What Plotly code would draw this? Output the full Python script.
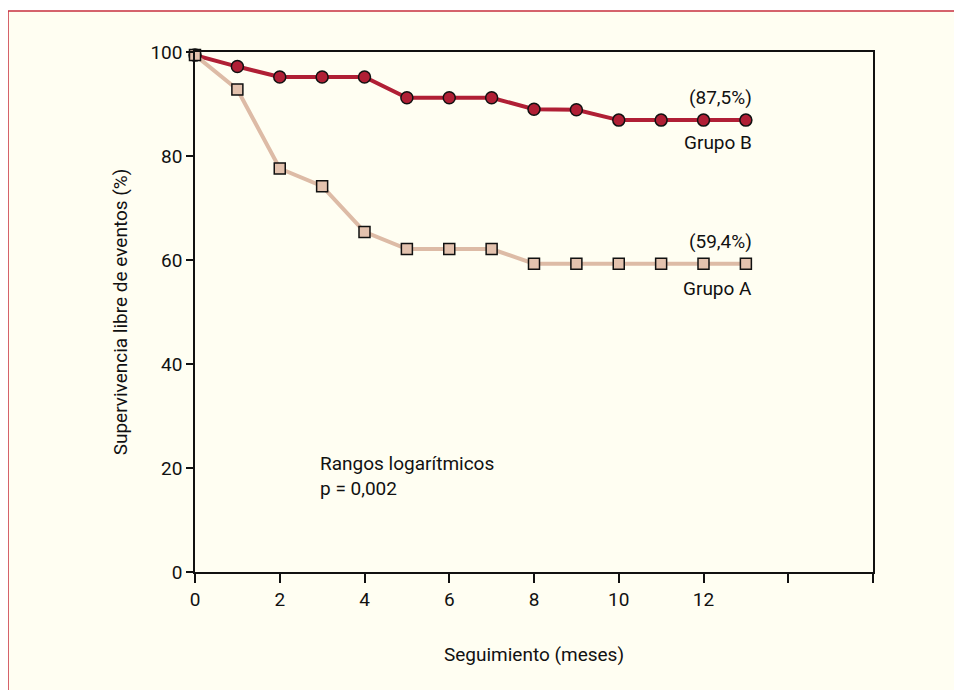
import plotly.graph_objects as go

months = list(range(0, 14))
grupo_b = [99.4, 97.2, 95.2, 95.2, 95.2, 91.2, 91.2, 91.2, 89.0, 88.9, 86.9, 86.9, 86.9, 86.9]
grupo_a = [99.4, 92.8, 77.6, 74.2, 65.4, 62.1, 62.1, 62.1, 59.3, 59.3, 59.3, 59.3, 59.3, 59.3]
x_ticks = [0, 2, 4, 6, 8, 10, 12, 14, 16]
x_tick_labels = ["0", "2", "4", "6", "8", "10", "12", "", ""]
y_ticks = [0, 20, 40, 60, 80, 100]

FONT = "Roboto, Liberation Sans Narrow, sans-serif"
RED = "#B01F35"
TAN = "#DDBBA6"
INK = "#111111"

fig = go.Figure()
fig.add_trace(go.Scatter(
    x=months, y=grupo_b, mode="lines+markers", name="Grupo B",
    line=dict(color=RED, width=4),
    marker=dict(symbol="circle", size=12, color=RED, line=dict(color=INK, width=1.5)),
    cliponaxis=False, showlegend=False))
fig.add_trace(go.Scatter(
    x=months, y=grupo_a, mode="lines+markers", name="Grupo A",
    line=dict(color=TAN, width=4),
    marker=dict(symbol="square", size=11, color="#E3C2AE", line=dict(color=INK, width=1.5)),
    cliponaxis=False, showlegend=False))

txt = dict(family=FONT, size=19, color=INK)
ann = [
    dict(x=13.19, y=grupo_b[-1] + 4.3, text="(87,5%)", xanchor="right", yanchor="middle"),
    dict(x=13.19, y=grupo_b[-1] - 4.3, text="Grupo B", xanchor="right", yanchor="middle"),
    dict(x=13.19, y=grupo_a[-1] + 4.3, text="(59,4%)", xanchor="right", yanchor="middle"),
    dict(x=13.19, y=grupo_a[-1] - 4.8, text="Grupo A", xanchor="right", yanchor="middle"),
    dict(x=2.9, y=18.4, text="Rangos logarítmicos<br>p = 0,002", xanchor="left", yanchor="middle", align="left"),
]
for a in ann:
    fig.add_annotation(xref="x", yref="y", showarrow=False, font=txt, **a)

fig.add_shape(type="rect", xref="paper", yref="paper", x0=-0.2758, x1=1.3, y0=-0.4, y1=1.0788,
              line=dict(color="#C8303F", width=1.5), fillcolor="#FFFEF2", layer="below")

fig.update_xaxes(range=[0, 16], tickvals=x_ticks, ticktext=x_tick_labels,
                 showline=True, linecolor=INK, linewidth=1.5, mirror=True,
                 ticks="outside", ticklen=9, tickwidth=1.5, tickcolor=INK,
                 showgrid=False, zeroline=False,
                 tickfont=dict(family=FONT, size=19, color=INK),
                 title=dict(text="Seguimiento (meses)", font=dict(family=FONT, size=19, color=INK), standoff=38))
fig.update_yaxes(range=[0, 100], tickvals=y_ticks,
                 showline=True, linecolor=INK, linewidth=1.5, mirror=True,
                 ticks="outside", ticklen=7, tickwidth=1.5, tickcolor=INK,
                 showgrid=False, zeroline=False,
                 tickfont=dict(family=FONT, size=19, color=INK),
                 title=dict(text="Supervivencia libre de eventos (%)", font=dict(family=FONT, size=19, color=INK), standoff=18))

fig.update_layout(width=962, height=690, margin=dict(l=187, r=97, t=44, b=126, autoexpand=False),
                  paper_bgcolor="white", plot_bgcolor="rgba(0,0,0,0)")
fig.write_html("out.html")
